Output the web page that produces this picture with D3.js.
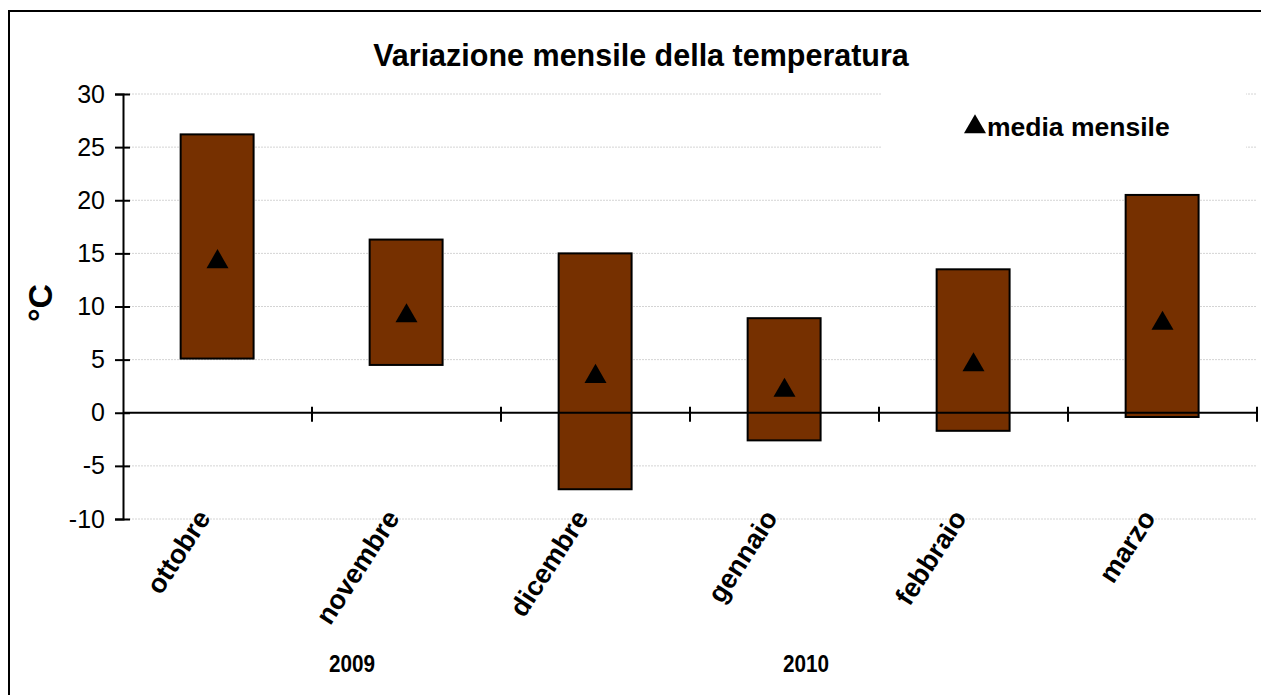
<!DOCTYPE html>
<html lang="it">
<head>
<meta charset="UTF-8">
<title>Variazione mensile della temperatura</title>
<script src="https://d3js.org/d3.v7.min.js"></script>
<style>
  body { margin: 0; background: #fff; }
  svg { display: block; font-family: "Liberation Sans", Arial, sans-serif; }
</style>
</head>
<body>
<svg id="chart" width="1261" height="695"></svg>
<script>
// dati
const mesi = ["ottobre", "novembre", "dicembre", "gennaio", "febbraio", "marzo"];
const tMax = [26.2, 16.3, 15.0, 8.9, 13.5, 20.5];
const tMin = [5.1, 4.5, -7.2, -2.6, -1.7, -0.4];
const tMedia = [14.3, 9.2, 3.5, 2.2, 4.6, 8.5];
const yTicks = [-10, -5, 0, 5, 10, 15, 20, 25, 30];
const anni = [{ label: "2009", x: 352 }, { label: "2010", x: 806 }];

const svg = d3.select("#chart");

// cornice esterna
svg.append("rect")
  .attr("x", 9).attr("y", 11)
  .attr("width", 1260).attr("height", 700)
  .attr("fill", "#fff").attr("stroke", "#000").attr("stroke-width", 2);

const x = d3.scaleBand().domain(mesi).range([123, 1257]).padding(0);
const y = d3.scaleLinear().domain([-10, 30]).range([519, 94]);

// griglia
svg.append("g")
  .selectAll("line")
  .data(yTicks.filter(d => d !== 0))
  .join("line")
  .attr("x1", 123).attr("x2", 1257)
  .attr("y1", d => y(d)).attr("y2", d => y(d))
  .attr("stroke", "#d4d4d4").attr("stroke-width", 1)
  .attr("stroke-dasharray", "2,1");

// riquadro legenda (copre la griglia)
svg.append("rect")
  .attr("x", 882).attr("y", 86)
  .attr("width", 364).attr("height", 82)
  .attr("fill", "#fff");

// asse y
const yAxis = svg.append("g")
  .attr("transform", "translate(123,0)")
  .call(d3.axisLeft(y).tickValues(yTicks).tickFormat(d => String(d)).tickSize(8).tickPadding(10));
yAxis.select(".domain").attr("stroke", "#000").attr("stroke-width", 2);
yAxis.selectAll(".tick line").attr("x2", -8).attr("x1", 7)
  .attr("stroke", "#000").attr("stroke-width", 2);
yAxis.selectAll(".tick text")
  .attr("font-size", 25).attr("fill", "#000")
  .attr("font-family", "Liberation Sans, Arial, sans-serif");

// barre min-max
svg.append("g")
  .selectAll("rect")
  .data(mesi)
  .join("rect")
  .attr("x", d => x(d) + x.bandwidth() * 0.305)
  .attr("width", x.bandwidth() * 0.386)
  .attr("y", (d, i) => y(tMax[i]))
  .attr("height", (d, i) => y(tMin[i]) - y(tMax[i]))
  .attr("fill", "#763000")
  .attr("stroke", "#000").attr("stroke-width", 2);

// asse x sullo zero
const x0 = y(0);
svg.append("line")
  .attr("x1", 123).attr("x2", 1257)
  .attr("y1", x0).attr("y2", x0)
  .attr("stroke", "#000").attr("stroke-width", 2);
const xTicks = mesi.map(m => x(m)).concat([x.range()[1]]).slice(1);
svg.append("g")
  .selectAll("line")
  .data(xTicks)
  .join("line")
  .attr("x1", d => d).attr("x2", d => d)
  .attr("y1", x0 - 6).attr("y2", x0 + 9)
  .attr("stroke", "#000").attr("stroke-width", 2);

// triangoli media mensile
const tri = d3.symbol().type(d3.symbolTriangle).size(210);
svg.append("g")
  .selectAll("path")
  .data(mesi)
  .join("path")
  .attr("d", tri)
  .attr("transform", (d, i) => `translate(${x(d) + x.bandwidth() / 2},${y(tMedia[i]) + 1})`)
  .attr("fill", "#000");

// etichette mesi
svg.append("g")
  .selectAll("text")
  .data(mesi)
  .join("text")
  .attr("transform", d => `translate(${x(d) + x.bandwidth() / 2 - 6},518) rotate(-57)`)
  .attr("text-anchor", "end")
  .attr("font-size", 27).attr("font-weight", "bold")
  .text(d => d);

// anni
svg.append("g")
  .selectAll("text")
  .data(anni)
  .join("text")
  .attr("x", d => d.x).attr("y", 672)
  .attr("text-anchor", "middle")
  .attr("font-size", 23).attr("font-weight", "bold")
  .attr("transform", d => `translate(${d.x},0) scale(0.9,1) translate(${-d.x},0)`)
  .text(d => d.label);

// titolo
svg.append("text")
  .attr("x", 641).attr("y", 66)
  .attr("text-anchor", "middle")
  .attr("font-size", 30.5).attr("font-weight", "bold")
  .text("Variazione mensile della temperatura");

// etichetta asse y
svg.append("text")
  .attr("transform", "translate(52,303) rotate(-90)")
  .attr("text-anchor", "middle")
  .attr("font-size", 34).attr("font-weight", "bold")
  .text("°C");

// legenda
svg.append("path")
  .attr("d", tri)
  .attr("transform", "translate(975,127)")
  .attr("fill", "#000");
svg.append("text")
  .attr("x", 987).attr("y", 136)
  .attr("font-size", 26.5).attr("font-weight", "bold")
  .text("media mensile");
</script>
</body>
</html>
